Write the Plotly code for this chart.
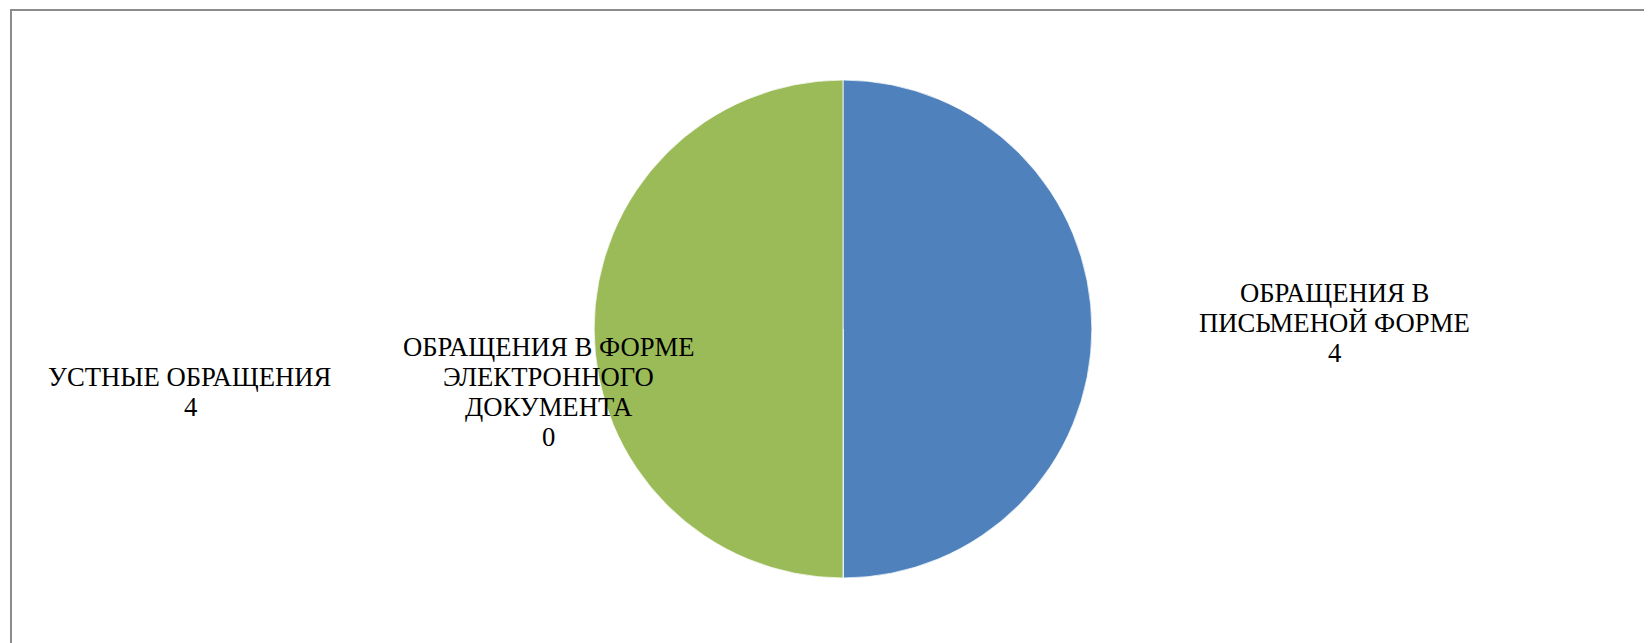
import plotly.graph_objects as go

labels = ["ОБРАЩЕНИЯ В ПИСЬМЕНОЙ ФОРМЕ", "ОБРАЩЕНИЯ В ФОРМЕ ЭЛЕКТРОННОГО ДОКУМЕНТА", "УСТНЫЕ ОБРАЩЕНИЯ"]
label_lines = [["ОБРАЩЕНИЯ В", "ПИСЬМЕНОЙ ФОРМЕ"],
               ["ОБРАЩЕНИЯ В ФОРМЕ", "ЭЛЕКТРОННОГО", "ДОКУМЕНТА"],
               ["УСТНЫЕ ОБРАЩЕНИЯ"]]
values = [4, 0, 4]
colors = ["#4F81BD", "#C0504D", "#9BBB59"]

W, H = 1652, 643
OFF = 8  # page body margin offset
cx, cy, r = 843 - OFF, 329 - OFF, 249

fig = go.Figure(go.Pie(
    labels=labels, values=values, sort=False, direction="clockwise", rotation=0,
    marker=dict(colors=colors, line=dict(color="white", width=0.75)),
    textinfo="none", hoverinfo="label+value", showlegend=False,
    domain=dict(x=[(cx - r) / W, (cx + r) / W], y=[1 - (cy + r) / H, 1 - (cy - r) / H]),
))

# (center x, first line center y) in page pixels
label_pos = [(1334.5, 293), (548.5, 346.5), (190, 376.5)]
LINE = 30.2
for lines, v, (x, y0) in zip(label_lines, values, label_pos):
    for i, t in enumerate(lines + [str(v)]):
        fig.add_annotation(
            x=(x - OFF) / W, y=1 - (y0 + i * LINE - OFF) / H, xref="paper", yref="paper",
            text=t, showarrow=False, xanchor="center", yanchor="middle",
            font=dict(family="Liberation Serif", size=26.7, color="black"),
        )

fig.add_shape(type="rect", xref="paper", yref="paper",
              x0=(11 - OFF) / W, x1=1.02, y0=-0.02, y1=1 - (10 - OFF) / H,
              line=dict(color="#8C8C8C", width=2))

fig.update_layout(width=W, height=H, margin=dict(l=0, r=0, t=0, b=0),
                  paper_bgcolor="white", plot_bgcolor="white")
fig.write_html("out.html")
